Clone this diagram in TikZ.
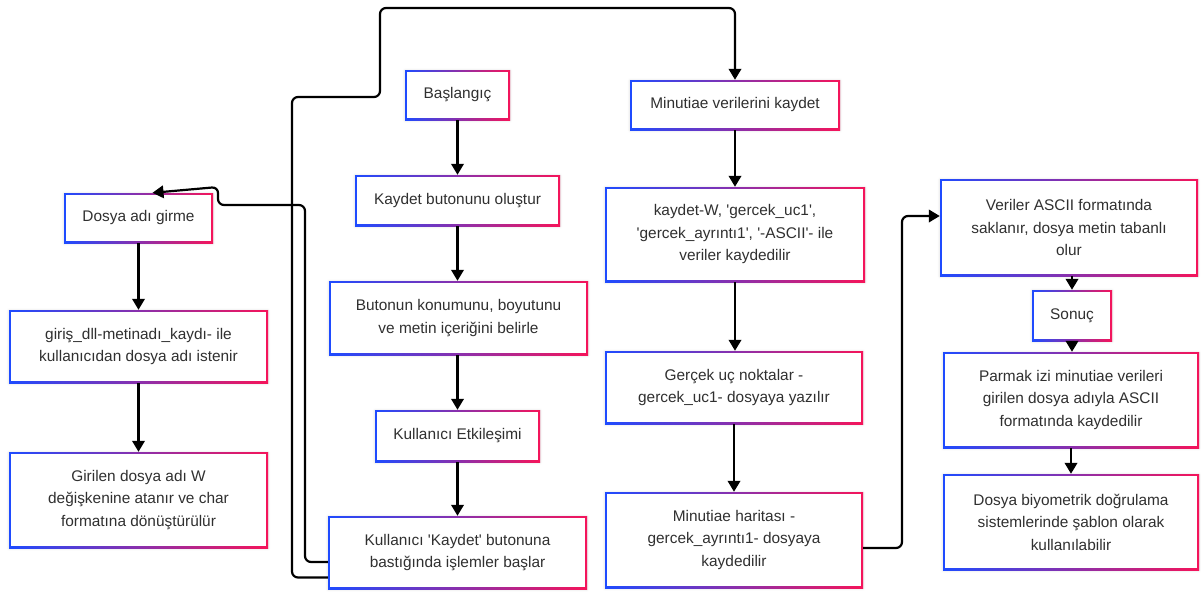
\documentclass[tikz,border=0pt]{standalone}
\usepackage{fontspec}
\setmainfont{Liberation Sans}
\usetikzlibrary{arrows.meta,shadows.blur}
\definecolor{gblue}{HTML}{1E4BFF}
\definecolor{gred}{HTML}{F5145A}
\definecolor{txt}{HTML}{303030}
\newcommand\sq{\textquotesingle}

\tikzset{
  gbox/.style={rectangle, inner sep=0pt, align=center, text=txt,
    font=\fontsize{15.4}{22.5}\selectfont, fill=white,
    blur shadow={shadow xshift=0pt, shadow yshift=-0.5pt,
      shadow blur radius=2.5pt, shadow opacity=15},
    path picture={
      \shade[left color=gblue, right color=gred]
        (path picture bounding box.south west) rectangle
        (path picture bounding box.north east);
      \fill[white]
        ([shift={(2pt,2pt)}]path picture bounding box.south west) rectangle
        ([shift={(-2pt,-2pt)}]path picture bounding box.north east);
    }},
  arr/.style={draw=black, line width=2.2pt, rounded corners=6pt,
    -{Triangle[length=11pt,width=12.5pt]}},
}

\begin{document}
\begin{tikzpicture}[x=1pt,y=-1pt]
\useasboundingbox (0,0) rectangle (1201,597);

% middle column
\node[gbox, minimum width=105pt, minimum height=50pt] (bas) at (457.5,95) {Başlangıç};
\node[gbox, minimum width=205pt, minimum height=51pt] (kbo) at (457.5,200.5) {Kaydet butonunu oluştur};
\node[gbox, minimum width=259pt, minimum height=74pt] (bkon) at (458.5,318) {Butonun konumunu, boyutunu\\ve metin içeriğini belirle};
\node[gbox, minimum width=165pt, minimum height=52pt] (ket) at (457.5,436) {Kullanıcı Etkileşimi};
\node[gbox, minimum width=259pt, minimum height=73pt] (kkay) at (457.5,552.5) {Kullanıcı \sq Kaydet\sq{} butonuna\\bastığında işlemler başlar};

% left column
\node[gbox, minimum width=149pt, minimum height=50pt] (dag) at (138.5,218) {Dosya adı girme};
\node[gbox, minimum width=259pt, minimum height=73pt] (gir) at (138.5,346.5) {giriş\_dll-metinadı\_kaydı- ile\\kullanıcıdan dosya adı istenir};
\node[gbox, minimum width=259pt, minimum height=96pt] (gdw) at (138.5,500) {Girilen dosya adı W\\değişkenine atanır ve char\\formatına dönüştürülür};

% minutiae column
\node[gbox, minimum width=210pt, minimum height=50pt] (mvk) at (735,105) {Minutiae verilerini kaydet};
\node[gbox, minimum width=260pt, minimum height=95pt] (kw) at (735,234.5) {kaydet-W, \sq gercek\_uc1\sq,\\\sq gercek\_ayrıntı1\sq, \sq-ASCII\sq- ile\\veriler kaydedilir};
\node[gbox, minimum width=258pt, minimum height=73pt] (guc) at (734,387.5) {Gerçek uç noktalar -\\gercek\_uc1- dosyaya yazılır};
\node[gbox, minimum width=258pt, minimum height=96pt] (mh) at (734,540) {Minutiae haritası -\\gercek\_ayrıntı1- dosyaya\\kaydedilir};

% result column
\node[gbox, minimum width=258pt, minimum height=97pt] (vas) at (1069,227.5) {Veriler ASCII formatında\\saklanır, dosya metin tabanlı\\olur};
\node[gbox, minimum width=80pt, minimum height=51pt] (son) at (1072,315.5) {Sonuç};
\node[gbox, minimum width=256pt, minimum height=96pt] (pmk) at (1071,400) {Parmak izi minutiae verileri\\girilen dosya adıyla ASCII\\formatında kaydedilir};
\node[gbox, minimum width=256pt, minimum height=96pt] (dbd) at (1071,522) {Dosya biyometrik doğrulama\\sistemlerinde şablon olarak\\kullanılabilir};

% straight flow arrows
\draw[arr] (bas.south) -- (bas.south |- kbo.north);
\draw[arr] (kbo.south) -- (kbo.south |- bkon.north);
\draw[arr] (bkon.south -| kbo.south) -- (kbo.south |- ket.north);
\draw[arr] (ket.south) -- (ket.south |- kkay.north);
\draw[arr] (dag.south) -- (dag.south |- gir.north);
\draw[arr] (gir.south) -- (gir.south |- gdw.north);
\draw[arr] (mvk.south) -- (mvk.south |- kw.north);
\draw[arr] (kw.south) -- (kw.south |- guc.north);
\draw[arr] (guc.south) -- (guc.south |- mh.north);
\draw[arr] (son.north |- vas.south) -- (son.north);
\draw[arr] (son.south) -- (son.south |- pmk.north);
\draw[arr] (pmk.south) -- (pmk.south |- dbd.north);

% bent connectors
\draw[arr] ([yshift=-8pt]mh.east) -- (902,548) -- (902,216) -- ([yshift=11.5pt]vas.west);
\draw[arr] ([yshift=-25pt]kkay.west) -- (292,577.5) -- (292,97) -- (380,97)
  -- (380,8) -- (735,8) -- (mvk.north);
\draw[arr] ([yshift=-9.5pt]kkay.west) -- (305,562) -- (305,205) -- (218,205)
  -- (218,187) -- ([xshift=14pt]dag.north);
\end{tikzpicture}
\end{document}
